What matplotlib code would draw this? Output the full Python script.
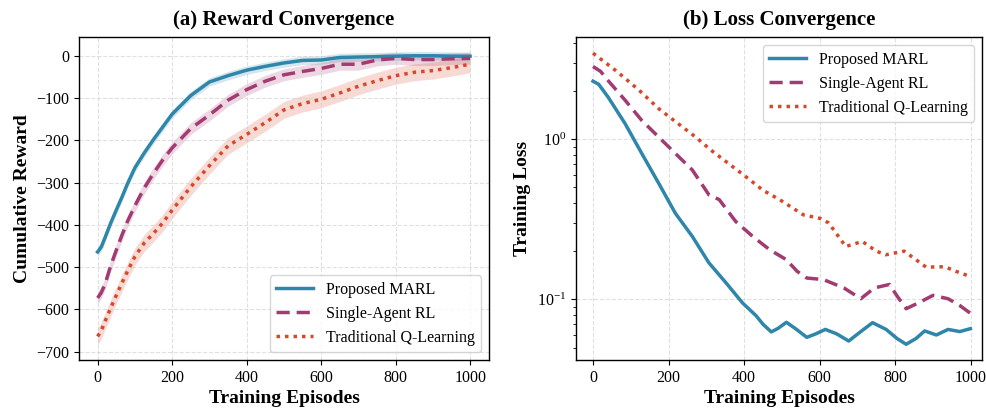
import matplotlib
matplotlib.use("Agg")
import matplotlib.pyplot as plt
import numpy as np

plt.rcParams['font.family'] = ['Liberation Serif', 'DejaVu Serif']
plt.rcParams['mathtext.fontset'] = 'stix'

# ---- data: reward convergence ----
ep_reward = [0, 10, 20, 35, 50, 65, 80, 100, 125, 150, 175, 200, 250, 300, 350, 400, 450,
             500, 550, 600, 650, 700, 750, 800, 850, 900, 950, 999]
reward_marl = [-464, -452, -430, -396, -365, -335, -303, -265, -230, -198, -168, -138, -94,
               -62, -47, -34, -25, -17, -11, -10, -4, -3, -2, -1, 0, 0, -1, -1]
reward_single = [-573, -560, -540, -497, -460, -425, -392, -355, -313, -278, -246, -218,
                 -172, -140, -105, -80, -60, -45, -37, -30, -20, -20, -10, -6, -9, -9, -7, -6]
reward_q = [-664, -650, -628, -597, -567, -538, -510, -475, -443, -420, -395, -365, -310,
            -260, -213, -186, -158, -128, -113, -103, -88, -72, -59, -47, -39, -35, -28, -20]
band_marl = 10
band_single = 14
band_q = 20

# ---- data: loss convergence ----
ep_loss_marl = [0, 15, 40, 85, 129, 174, 218, 263, 307, 352, 396, 432, 450, 472, 490, 512,
                535, 566, 590, 615, 645, 677, 705, 740, 776, 805, 829, 855, 878, 909,
                940, 971, 999]
loss_marl = [2.30, 2.20, 1.83, 1.25, 0.815, 0.53, 0.345, 0.247, 0.169, 0.127, 0.095, 0.079,
             0.070, 0.0627, 0.066, 0.072, 0.066, 0.058, 0.061, 0.065, 0.061, 0.055, 0.062,
             0.0716, 0.065, 0.057, 0.0525, 0.057, 0.0636, 0.060, 0.065, 0.063, 0.0657]
ep_loss_single = [0, 20, 40, 85, 129, 174, 218, 263, 307, 334, 378, 423, 468, 512, 540, 566,
                  610, 664, 709, 745, 785, 805, 829, 865, 900, 940, 970, 999]
loss_single = [2.84, 2.65, 2.32, 1.75, 1.31, 1.03, 0.815, 0.642, 0.449, 0.42, 0.306, 0.247,
               0.204, 0.177, 0.150, 0.136, 0.133, 0.118, 0.101, 0.118, 0.124, 0.105, 0.0875,
               0.096, 0.106, 0.101, 0.092, 0.082]
ep_loss_q = [0, 62, 120, 174, 214, 272, 312, 370, 410, 450, 495, 557, 602, 624, 669, 713,
             750, 775, 824, 882, 931, 960, 995]
loss_q = [3.44, 2.66, 2.04, 1.55, 1.31, 1.03, 0.855, 0.673, 0.57, 0.48, 0.418, 0.337, 0.32,
          0.30, 0.214, 0.23, 0.20, 0.19, 0.20, 0.159, 0.16, 0.15, 0.14]

labels = ['Proposed MARL', 'Single-Agent RL', 'Traditional Q-Learning']
colors = ['#2E86AB', '#A23B72', '#D9472B']
styles = ['-', (0, (3.8, 2)), (0, (1, 1.45))]

fig = plt.figure(figsize=(9.87, 4.13), dpi=100)
ax1 = fig.add_axes([0.080, 0.128, 0.4155, 0.782])
ax2 = fig.add_axes([0.5836, 0.128, 0.4114, 0.782])

# reward
ep = np.array(ep_reward)
series = [(reward_marl, band_marl), (reward_single, band_single), (reward_q, band_q)]
for (vals, band), ls, c, lab in zip(series, styles, colors, labels):
    v = np.array(vals, dtype=float)
    ax1.fill_between(ep, v - band, v + band, color=c, alpha=0.2, linewidth=0)
    ax1.plot(ep, v, color=c, linestyle=ls, linewidth=2.5, label=lab)

ax1.set_xlim(-50, 1050)
ax1.set_ylim(-720, 44)
ax1.set_xticks([0, 200, 400, 600, 800, 1000])
ax1.set_yticks([0, -100, -200, -300, -400, -500, -600, -700])
ax1.set_title('(a) Reward Convergence', fontsize=15, fontweight='bold', pad=9)
ax1.set_xlabel('Training Episodes', fontsize=14, fontweight='bold', labelpad=3)
ax1.set_ylabel('Cumulative Reward', fontsize=14, fontweight='bold')
ax1.grid(True, linestyle='--', color='#cccccc', alpha=0.6, linewidth=0.8)
ax1.legend(loc='lower right', fontsize=11.5, frameon=True, edgecolor='#cccccc',
           fancybox=True, handlelength=2.3)

# loss
loss_series = [(ep_loss_marl, loss_marl), (ep_loss_single, loss_single), (ep_loss_q, loss_q)]
for (e, vals), ls, c, lab in zip(loss_series, styles, colors, labels):
    ax2.plot(e, vals, color=c, linestyle=ls, linewidth=2.5, label=lab)
ax2.set_yscale('log')
ax2.set_xlim(-45, 1030)
ax2.set_ylim(0.0418, 4.33)
ax2.set_xticks([0, 200, 400, 600, 800, 1000])
ax2.set_title('(b) Loss Convergence', fontsize=15, fontweight='bold', pad=9)
ax2.set_xlabel('Training Episodes', fontsize=14, fontweight='bold', labelpad=3)
ax2.set_ylabel('Training Loss', fontsize=14, fontweight='bold')
ax2.grid(True, linestyle='--', color='#cccccc', alpha=0.6, linewidth=0.8)
ax2.legend(loc='upper right', fontsize=11.5, frameon=True, edgecolor='#cccccc',
           fancybox=True, handlelength=2.3)

for ax in (ax1, ax2):
    ax.tick_params(labelsize=11.5)
    for s in ax.spines.values():
        s.set_linewidth(1.0)

fig.savefig('out.png', dpi=100)
